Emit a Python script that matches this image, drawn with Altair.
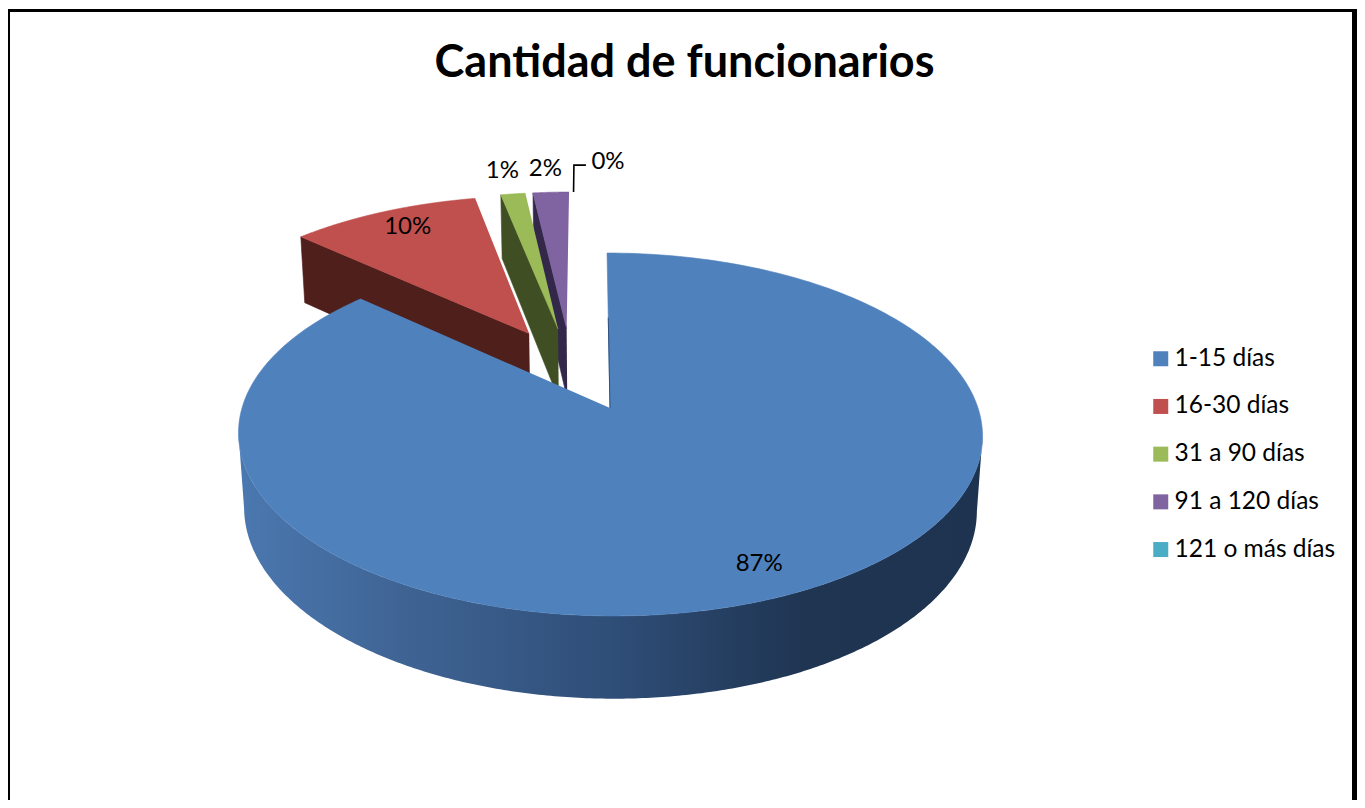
import math
import altair as alt
import pandas as pd

# ---- chart values ----
categories = ["1-15 días", "16-30 días", "31 a 90 días", "91 a 120 días", "121 o más días"]
shares = [86.8, 10.0, 1.3, 1.9, 0.0]
top_colors = ["#4f81bd", "#c0504d", "#9bbb59", "#8064a2", "#4bacc6"]
wall_colors = [None, "#4f1f1c", "#3f4f23", "#332849", None]
label_radius = [0.85, 0.86, 1.2, 1.2, 1.26]
label_dx = [4, 6, -3, -3, 34]
title_text = "Cantidad de funcionarios"

# ---- 3D view of the pie (page pixels) ----
W, H = 1349, 792
PAGE = 8
CX, CY, A, B, K, SHEAR = 610.0, 408.0, 368.0, 177.6, 0.146, 3.4
DEPTH, DEPTH_SCALE = 75.0, 0.015
EXPLODE = 0.25
SMALL_SLICE_NUDGE = -0.006
FONT = "Lato"


def proj(u, v, bottom=False):
    q = DEPTH_SCALE if bottom else 0.0
    d = DEPTH if bottom else 0.0
    w = 1.0 / (1.0 - K * v + q)
    return CX + (A * u + SHEAR * v) * w - PAGE, CY + (B * v + d) * w - PAGE


def direction(turn):
    a = 2 * math.pi * turn
    return math.sin(a), -math.cos(a)


total = sum(shares)
starts, ends = [], []
acc = 0.0
for s in shares:
    starts.append(acc / total)
    acc += s
    ends.append(acc / total)
mids = [(a + b) / 2 for a, b in zip(starts, ends)]

d0 = direction(mids[0])
origin = (-EXPLODE * d0[0], -EXPLODE * d0[1])


def centre(i):
    d = direction(mids[i])
    nudge = SMALL_SLICE_NUDGE if i > 0 else 0.0
    return origin[0] + EXPLODE * d[0] + nudge, origin[1] + EXPLODE * d[1]


def rim(i, turn, r=1.0):
    c = centre(i)
    d = direction(turn)
    return c[0] + r * d[0], c[1] + r * d[1]


def arc_turns(i, n=240):
    return [starts[i] + (ends[i] - starts[i]) * j / n for j in range(n + 1)]


def frame(points):
    return pd.DataFrame({"x": [p[0] for p in points], "y": [p[1] for p in points], "i": range(len(points))})


xs = alt.Scale(domain=[0, W], range=[0, W], nice=False, zero=False)
ys = alt.Scale(domain=[0, H], range=[0, H], nice=False, zero=False)


def polygon(points, fill, stroke=None):
    return alt.Chart(frame(points)).mark_line(
        fill=fill, stroke=stroke or "transparent", strokeWidth=0.6 if stroke else 0
    ).encode(
        x=alt.X("x:Q", scale=xs, axis=None),
        y=alt.Y("y:Q", scale=ys, axis=None),
        order="i:Q",
    )


def top_face(i):
    pts = [proj(*centre(i))] + [proj(*rim(i, t)) for t in arc_turns(i)]
    return polygon(pts, top_colors[i], top_colors[i])


def radial_wall(i):
    c, e = centre(i), rim(i, starts[i])
    pts = [proj(*c), proj(*e), proj(*e, bottom=True), proj(*c, bottom=True)]
    return polygon(pts, wall_colors[i], wall_colors[i])


layers = []

# legend carrier, hidden behind the top face of the big slice
legend_df = pd.DataFrame({"cat": categories, "x": [CX - PAGE + 60] * 5, "y": [CY - PAGE + 60] * 5})
layers.append(
    alt.Chart(legend_df).mark_square(opacity=1).encode(
        x=alt.X("x:Q", scale=xs, axis=None),
        y=alt.Y("y:Q", scale=ys, axis=None),
        color=alt.Color(
            "cat:N",
            scale=alt.Scale(domain=categories, range=top_colors),
            legend=alt.Legend(
                title=None,
                orient="none",
                legendX=1140.5,
                legendY=338.5,
                symbolType="square",
                symbolSize=225,
                symbolStrokeWidth=0,
                labelFont=FONT,
                labelFontSize=24.5,
                labelColor="#000000",
                labelLimit=260,
                labelOffset=1.5,
                rowPadding=22.7,
                padding=0,
            ),
        ),
    )
)

for i in (3, 2, 1):
    layers.append(radial_wall(i))
    layers.append(top_face(i))

# outer wall of the big slice, between its left and right silhouette points
turns = arc_turns(0, 600)
by_x = [proj(*rim(0, t))[0] for t in turns]
t_right = turns[by_x.index(max(by_x))]
t_left = turns[by_x.index(min(by_x))]
front = [t_right + (t_left - t_right) * j / 300 for j in range(301)]
wall_pts = [proj(*rim(0, t)) for t in front] + [proj(*rim(0, t), bottom=True) for t in reversed(front)]
wall_fill = alt.LinearGradient(
    gradient="linear", x1=0, x2=1, y1=0, y2=0,
    stops=[
        alt.GradientStop(color="#4b78b0", offset=0.0),
        alt.GradientStop(color="#3f6494", offset=0.22),
        alt.GradientStop(color="#2f4e78", offset=0.5),
        alt.GradientStop(color="#1f3552", offset=0.76),
        alt.GradientStop(color="#1e3350", offset=1.0),
    ],
)
layers.append(polygon(wall_pts, wall_fill))
layers.append(top_face(0))

# dark sliver along the cut edge of the big slice
layers.append(
    alt.Chart(frame([proj(*rim(0, 0.0, 0.0)), proj(*rim(0, 0.0, 0.55))])).mark_line(
        color="#2f5080", strokeWidth=1.0
    ).encode(
        x=alt.X("x:Q", scale=xs, axis=None),
        y=alt.Y("y:Q", scale=ys, axis=None),
        order="i:Q",
    )
)

# data labels
for i, s in enumerate(shares):
    lx, ly = proj(*rim(i, mids[i], label_radius[i]))
    lab = pd.DataFrame({"x": [lx + label_dx[i]], "y": [ly], "t": [f"{round(s)}%"]})
    layers.append(
        alt.Chart(lab).mark_text(font=FONT, fontSize=24, color="#000000", align="center", baseline="middle").encode(
            x=alt.X("x:Q", scale=xs, axis=None),
            y=alt.Y("y:Q", scale=ys, axis=None),
            text="t:N",
        )
    )

# leader line of the empty slice
p0 = proj(*rim(4, 1.0, 1.0))
p1 = proj(*rim(4, 1.0, 1.23))
p2 = (p1[0] + 12, p1[1])
layers.append(
    alt.Chart(frame([p0, p1, p2])).mark_line(color="#000000", strokeWidth=1.6).encode(
        x=alt.X("x:Q", scale=xs, axis=None),
        y=alt.Y("y:Q", scale=ys, axis=None),
        order="i:Q",
    )
)

# frame of the picture
layers.append(alt.Chart(frame([(0, 0)])).mark_rule(color="#000000", strokeWidth=3).encode(
    x=alt.value(0), x2=alt.value(W), y=alt.value(2.5)))
layers.append(alt.Chart(frame([(0, 0)])).mark_rule(color="#000000", strokeWidth=4).encode(
    x=alt.value(0), y=alt.value(1), y2=alt.value(H)))
layers.append(alt.Chart(frame([(0, 0)])).mark_rule(color="#000000", strokeWidth=5).encode(
    x=alt.value(W - 2.5), y=alt.value(1), y2=alt.value(H)))

chart = alt.layer(*layers).properties(
    width=W,
    height=H,
    padding=0,
    autosize=alt.AutoSizeParams(type="none"),
    background="#ffffff",
    title=alt.TitleParams(
        text=title_text,
        font=FONT,
        fontSize=45,
        fontWeight="bold",
        color="#000000",
        anchor="middle",
        frame="group",
        orient="top",
        offset=0,
        dy=79,
        dx=2,
    ),
).configure_view(stroke=None)

chart.save("out.html", embed_options={"renderer": "svg", "actions": False})
